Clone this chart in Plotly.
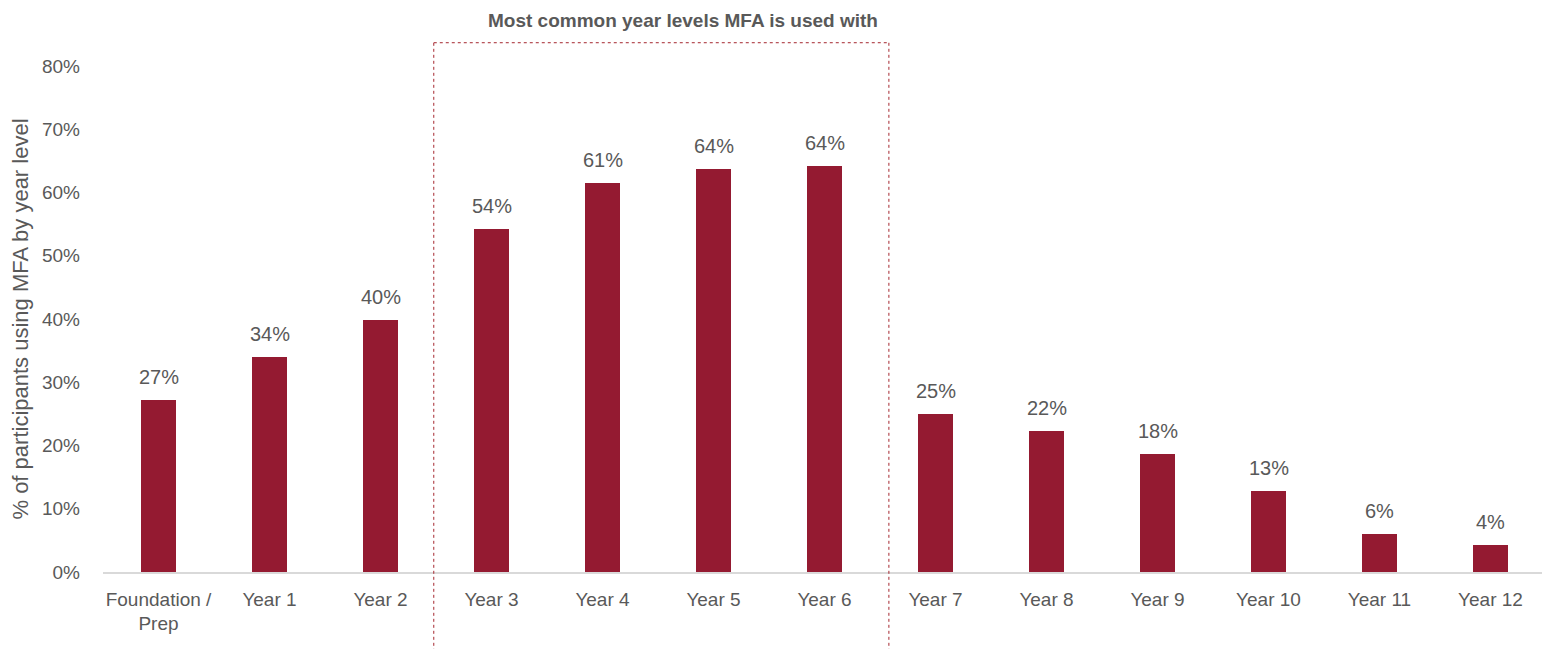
import plotly.graph_objects as go

categories = ["Foundation /<br>Prep", "Year 1", "Year 2", "Year 3", "Year 4", "Year 5",
              "Year 6", "Year 7", "Year 8", "Year 9", "Year 10", "Year 11", "Year 12"]
values = [0.272, 0.340, 0.398, 0.542, 0.615, 0.637, 0.642, 0.250, 0.223, 0.187, 0.128, 0.060, 0.043]
value_labels = ["27%", "34%", "40%", "54%", "61%", "64%", "64%", "25%", "22%", "18%", "13%", "6%", "4%"]
title_text = "Most common year levels MFA is used with"
y_title = "% of participants using MFA by year level"

FONT = "Liberation Sans Narrow, Arial Narrow, Liberation Sans, Arial, sans-serif"
GREY = "#595959"
BAR = "#941A31"

xs = list(range(len(categories)))
fig = go.Figure(go.Bar(
    x=xs, y=values, width=0.315,
    marker=dict(color=BAR, line=dict(width=0)),
))

for xi, v, lab in zip(xs, values, value_labels):
    fig.add_annotation(x=xi, y=v, text=lab, showarrow=False, yanchor="bottom", yshift=10,
                       font=dict(family=FONT, size=20, color=GREY))

# page body adds ~8px offset; margins compensate
W, H = 1550, 649
ml, mr, mt, mb = 95, 12, 58, 85
fig.update_layout(
    width=W, height=H, margin=dict(l=ml, r=mr, t=mt, b=mb, autoexpand=False),
    plot_bgcolor="white", paper_bgcolor="white", showlegend=False,
    bargap=0,
    font=dict(family=FONT, size=19, color=GREY),
    xaxis=dict(tickmode="array", tickvals=xs, ticktext=categories, automargin=False,
               range=[-0.5, len(categories) - 0.5], showgrid=False, zeroline=False,
               showline=True, linecolor="#d9d9d9", linewidth=1.5, ticks="",
               ticklabelstandoff=9,
               tickfont=dict(family=FONT, size=19, color=GREY)),
    yaxis=dict(range=[0, 0.8], dtick=0.1, tickformat=".0%", showgrid=False, zeroline=False,
               showline=False, ticks="", ticklabelstandoff=22, automargin=False,
               tickfont=dict(family=FONT, size=19, color=GREY),
               title=dict(text=y_title, font=dict(family=FONT, size=22, color=GREY), standoff=10)),
)

# highlight box (dotted) around Year 3 - Year 6
box_color = "#A5272F"
x_left, x_right = 2.48, 6.58
y_top = 1.046
for (x0, y0, x1, y1) in [(x_left, -0.3, x_left, y_top), (x_right, -0.3, x_right, y_top),
                         (x_left, y_top, x_right, y_top)]:
    fig.add_shape(type="line", xref="x", yref="paper", x0=x0, x1=x1, y0=y0, y1=y1,
                  line=dict(color=box_color, width=1, dash="dot"))

fig.add_annotation(text="<b>" + title_text + "</b>", xref="paper", yref="paper",
                   x=0.402, y=1.089, yanchor="middle", showarrow=False, borderpad=0,
                   font=dict(family=FONT, size=19, color=GREY))

fig.write_html("out.html")
